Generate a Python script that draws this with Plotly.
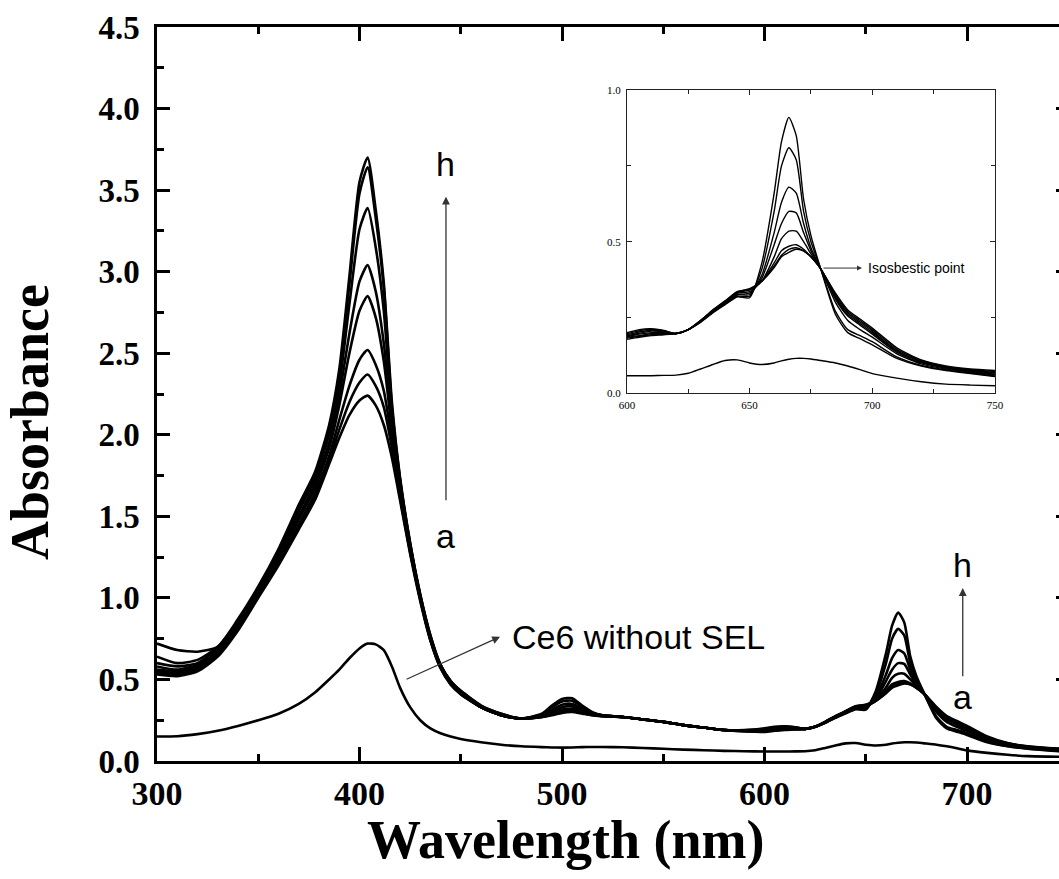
import plotly.graph_objects as go

# ---------------- data ----------------
WL = [300, 310, 320, 330, 340, 350, 360, 370, 378, 385, 390, 395, 400, 404, 408, 412, 416, 420,
      425, 430, 435, 440, 445, 450, 460, 470, 480,
      490, 495, 500, 505, 510, 515, 520,
      530, 540, 550, 560, 570, 580, 590, 600,
      605, 610, 615, 620, 625, 630, 635, 640, 645,
      650, 655, 660, 663, 666, 669, 672, 675, 679,
      685, 690, 695, 700, 710, 720, 730, 740, 750]

curve_a = [0.53, 0.52, 0.55, 0.64, 0.80, 1.00, 1.20, 1.42, 1.60, 1.82, 1.98, 2.12, 2.21, 2.24, 2.18, 2.06, 1.86, 1.60,
           1.27, 0.98, 0.74, 0.57, 0.47, 0.41, 0.33, 0.28, 0.26,
           0.27, 0.28, 0.295, 0.30, 0.29, 0.28, 0.275,
           0.27, 0.255, 0.24, 0.22, 0.205, 0.19, 0.182, 0.178,
           0.185, 0.19, 0.193, 0.197, 0.21, 0.24, 0.275, 0.305, 0.335,
           0.345, 0.37, 0.415, 0.45, 0.465, 0.475, 0.47, 0.45, 0.41,
           0.33, 0.275, 0.245, 0.215, 0.15, 0.11, 0.09, 0.08, 0.075]
curve_b = [0.54, 0.53, 0.56, 0.65, 0.81, 1.01, 1.21, 1.43, 1.62, 1.84, 2.03, 2.20, 2.32, 2.37, 2.30, 2.17, 1.92, 1.62,
           1.28, 0.99, 0.74, 0.57, 0.47, 0.41, 0.33, 0.28, 0.26,
           0.27, 0.285, 0.30, 0.305, 0.295, 0.28, 0.275,
           0.27, 0.255, 0.24, 0.22, 0.205, 0.19, 0.183, 0.182,
           0.188, 0.193, 0.195, 0.197, 0.21, 0.24, 0.274, 0.303, 0.335,
           0.343, 0.37, 0.42, 0.455, 0.475, 0.48, 0.47, 0.45, 0.41,
           0.325, 0.27, 0.24, 0.21, 0.145, 0.108, 0.088, 0.078, 0.072]
curve_c = [0.55, 0.54, 0.57, 0.66, 0.82, 1.02, 1.22, 1.45, 1.64, 1.87, 2.09, 2.30, 2.46, 2.52, 2.43, 2.27, 1.97, 1.65,
           1.29, 1.00, 0.75, 0.58, 0.48, 0.42, 0.33, 0.28, 0.26,
           0.27, 0.29, 0.305, 0.31, 0.30, 0.285, 0.275,
           0.27, 0.255, 0.24, 0.22, 0.205, 0.19, 0.184, 0.185,
           0.19, 0.197, 0.197, 0.197, 0.21, 0.24, 0.273, 0.302, 0.333,
           0.34, 0.37, 0.43, 0.47, 0.485, 0.49, 0.475, 0.45, 0.41,
           0.32, 0.265, 0.235, 0.205, 0.14, 0.105, 0.087, 0.076, 0.069]
curve_d = [0.56, 0.55, 0.58, 0.67, 0.83, 1.03, 1.24, 1.48, 1.67, 1.92, 2.18, 2.50, 2.76, 2.85, 2.72, 2.45, 2.03, 1.68,
           1.31, 1.00, 0.75, 0.58, 0.48, 0.42, 0.33, 0.28, 0.26,
           0.275, 0.295, 0.315, 0.32, 0.305, 0.285, 0.277,
           0.27, 0.255, 0.24, 0.22, 0.205, 0.19, 0.185, 0.188,
           0.195, 0.20, 0.20, 0.197, 0.21, 0.238, 0.272, 0.30, 0.33,
           0.335, 0.37, 0.45, 0.51, 0.535, 0.535, 0.50, 0.46, 0.41,
           0.315, 0.26, 0.23, 0.20, 0.14, 0.103, 0.085, 0.074, 0.066]
curve_e = [0.58, 0.56, 0.59, 0.68, 0.84, 1.04, 1.25, 1.50, 1.70, 1.95, 2.24, 2.62, 2.94, 3.04, 2.88, 2.56, 2.08, 1.70,
           1.32, 1.01, 0.76, 0.58, 0.48, 0.42, 0.33, 0.28, 0.26,
           0.28, 0.305, 0.33, 0.335, 0.31, 0.29, 0.278,
           0.27, 0.255, 0.24, 0.22, 0.205, 0.19, 0.186, 0.19,
           0.198, 0.205, 0.203, 0.197, 0.21, 0.237, 0.27, 0.298, 0.325,
           0.33, 0.38, 0.49, 0.56, 0.60, 0.595, 0.53, 0.47, 0.41,
           0.31, 0.255, 0.225, 0.195, 0.135, 0.10, 0.083, 0.072, 0.063]
curve_f = [0.60, 0.58, 0.60, 0.69, 0.85, 1.05, 1.27, 1.53, 1.73, 2.00, 2.30, 2.80, 3.26, 3.39, 3.15, 2.76, 2.13, 1.72,
           1.33, 1.01, 0.76, 0.59, 0.49, 0.42, 0.33, 0.28, 0.26,
           0.28, 0.315, 0.345, 0.35, 0.32, 0.29, 0.28,
           0.27, 0.255, 0.24, 0.22, 0.205, 0.19, 0.187, 0.193,
           0.202, 0.208, 0.205, 0.197, 0.21, 0.236, 0.268, 0.296, 0.325,
           0.325, 0.39, 0.53, 0.63, 0.68, 0.66, 0.56, 0.48, 0.41,
           0.30, 0.24, 0.21, 0.185, 0.13, 0.097, 0.08, 0.07, 0.06]
curve_g = [0.64, 0.60, 0.62, 0.70, 0.86, 1.06, 1.29, 1.55, 1.75, 2.04, 2.36, 2.92, 3.48, 3.64, 3.33, 2.90, 2.17, 1.73,
           1.33, 1.02, 0.77, 0.59, 0.49, 0.43, 0.34, 0.29, 0.26,
           0.285, 0.33, 0.365, 0.37, 0.33, 0.295, 0.28,
           0.27, 0.255, 0.24, 0.22, 0.205, 0.19, 0.188, 0.197,
           0.206, 0.211, 0.206, 0.197, 0.21, 0.235, 0.267, 0.294, 0.32,
           0.32, 0.41, 0.60, 0.75, 0.81, 0.77, 0.60, 0.50, 0.41,
           0.27, 0.21, 0.19, 0.17, 0.12, 0.092, 0.077, 0.067, 0.057]
curve_h = [0.72, 0.68, 0.67, 0.70, 0.87, 1.07, 1.30, 1.57, 1.77, 2.06, 2.40, 2.97, 3.55, 3.70, 3.38, 2.93, 2.20, 1.74,
           1.34, 1.02, 0.77, 0.59, 0.49, 0.43, 0.34, 0.29, 0.26,
           0.29, 0.34, 0.38, 0.385, 0.34, 0.30, 0.28,
           0.27, 0.255, 0.24, 0.22, 0.205, 0.19, 0.19, 0.20,
           0.21, 0.213, 0.207, 0.197, 0.21, 0.234, 0.265, 0.292, 0.318,
           0.315, 0.43, 0.66, 0.83, 0.91, 0.85, 0.64, 0.52, 0.41,
           0.26, 0.20, 0.18, 0.16, 0.115, 0.09, 0.075, 0.065, 0.055]
ce6_without_sel = [0.15, 0.152, 0.165, 0.185, 0.215, 0.25, 0.29, 0.35, 0.42, 0.50, 0.56, 0.63, 0.69, 0.72, 0.715, 0.68, 0.58, 0.45,
                   0.33, 0.25, 0.20, 0.17, 0.15, 0.135, 0.115, 0.10, 0.09,
                   0.085, 0.083, 0.082, 0.083, 0.085, 0.086, 0.086,
                   0.084, 0.08, 0.075, 0.07, 0.066, 0.062, 0.06, 0.058,
                   0.058, 0.058, 0.059, 0.06, 0.066, 0.08, 0.095, 0.108, 0.11,
                   0.10, 0.095, 0.10, 0.107, 0.112, 0.115, 0.115, 0.113, 0.108,
                   0.10, 0.09, 0.078, 0.065, 0.05, 0.038, 0.03, 0.027, 0.025]

SERIES = {"a": curve_a, "b": curve_b, "c": curve_c, "d": curve_d, "e": curve_e,
          "f": curve_f, "g": curve_g, "h": curve_h, "Ce6 without SEL": ce6_without_sel}

X_TICKS = [300, 400, 500, 600, 700]
Y_TICKS = [0.0, 0.5, 1.0, 1.5, 2.0, 2.5, 3.0, 3.5, 4.0, 4.5]
INSET_X_TICKS = [600, 650, 700, 750]
INSET_Y_TICKS = [0.0, 0.5, 1.0]

# ---------------- figure ----------------
SERIF = "Times New Roman, Liberation Serif, serif"
SANS = "Arial, Liberation Sans, sans-serif"

fig = go.Figure()
for name, vals in SERIES.items():
    fig.add_trace(go.Scatter(x=WL, y=vals, mode="lines", name=name,
                             line=dict(color="black", width=2.6, shape="spline", smoothing=0.6),
                             showlegend=False, hoverinfo="skip"))
for name, vals in SERIES.items():
    fig.add_trace(go.Scatter(x=WL, y=vals, mode="lines", name=name + " (inset)",
                             xaxis="x2", yaxis="y2",
                             line=dict(color="black", width=1.4, shape="spline", smoothing=0.6),
                             showlegend=False, hoverinfo="skip"))
fig.add_trace(go.Scatter(x=[], y=[], yaxis="y3", showlegend=False, hoverinfo="skip"))

W, H = 1059, 879
L, R, T, B = 157, 0, 27, 118
x_right = 300 + (W - L - R) / 2.025

fig.update_layout(
    width=W, height=H,
    margin=dict(l=L, r=R, t=T, b=B, autoexpand=False),
    paper_bgcolor="white", plot_bgcolor="white",
    xaxis=dict(range=[300, x_right], tickvals=X_TICKS, showgrid=False, zeroline=False, automargin=False,
               showline=True, linecolor="black", linewidth=2.5, mirror="ticks",
               ticks="inside", ticklen=14, tickwidth=2.5, tickcolor="black",
               minor=dict(ticks="inside", dtick=50, tick0=300, ticklen=7, tickwidth=2.5, tickcolor="black"),
               tickfont=dict(family=SERIF, size=34, color="black", weight="bold"),
               ticklabelstandoff=0),
    yaxis=dict(range=[0, 4.5], tickvals=Y_TICKS, tickformat=".1f", showgrid=False, zeroline=False,
               automargin=False,
               showline=True, linecolor="black", linewidth=2.5, mirror=False,
               ticks="inside", ticklen=13, tickwidth=2.5, tickcolor="black",
               minor=dict(ticks="inside", dtick=0.25, tick0=0, ticklen=7, tickwidth=2.5, tickcolor="black"),
               tickfont=dict(family=SERIF, size=33, color="black", weight="bold"),
               ticklabelstandoff=8),
    yaxis3=dict(range=[0, 4.5], overlaying="y", side="right", anchor="x", tickvals=Y_TICKS,
                automargin=False,
                showticklabels=False, showgrid=False, zeroline=False, showline=False,
                ticks="inside", ticklen=3, tickwidth=2.5, tickcolor="black"),
    xaxis2=dict(domain=[0.521, 0.929], anchor="y2", range=[600, 750], tickvals=INSET_X_TICKS,
                automargin=False,
                showgrid=False, zeroline=False, showline=True, linecolor="#222", linewidth=1,
                mirror="ticks", ticks="inside", ticklen=5, tickwidth=1, tickcolor="#222",
                minor=dict(ticks="inside", dtick=25, tick0=600, ticklen=4, tickwidth=1, tickcolor="#222"),
                tickfont=dict(family=SERIF, size=11, color="black"), ticklabelstandoff=2),
    yaxis2=dict(domain=[0.501, 0.914], anchor="x2", range=[0, 1.0], tickvals=INSET_Y_TICKS, tickformat=".1f",
                automargin=False,
                showgrid=False, zeroline=False, showline=True, linecolor="#222", linewidth=1,
                mirror="ticks", ticks="inside", ticklen=5, tickwidth=1, tickcolor="#222",
                minor=dict(ticks="inside", dtick=0.25, tick0=0, ticklen=4, tickwidth=1, tickcolor="#222"),
                tickfont=dict(family=SERIF, size=11, color="black"), ticklabelstandoff=3),
)

# axis titles
fig.add_annotation(text="Wavelength (nm)", xref="paper", yref="paper", x=0.4534, y=-0.108,
                   showarrow=False, xanchor="center", yanchor="middle",
                   font=dict(family=SERIF, size=54, color="black", weight="bold"))
fig.add_annotation(text="Absorbance", xref="paper", yref="paper", x=-0.1408, y=0.4619,
                   showarrow=False, textangle=-90, xanchor="center", yanchor="middle",
                   font=dict(family=SERIF, size=54, color="black", weight="bold"))

# arrows and labels in the main plot
def arrow(x, y, ax, ay, xr="x", yr="y", width=1.3, size=1.2):
    fig.add_annotation(x=x, y=y, ax=ax, ay=ay, xref=xr, yref=yr, axref=xr, ayref=yr,
                       text="", showarrow=True, arrowhead=2, arrowsize=size,
                       arrowwidth=width, arrowcolor="#333", standoff=0, startstandoff=0)

def label(txt, x, y, size=34, xr="x", yr="y", xanchor="center"):
    fig.add_annotation(x=x, y=y, xref=xr, yref=yr, text=txt, showarrow=False,
                       xanchor=xanchor, yanchor="middle",
                       font=dict(family=SANS, size=size, color="black"))

arrow(442.7, 3.46, 442.7, 1.59)
label("h", 442.7, 3.66)
label("a", 442.7, 1.38)

arrow(697.9, 1.06, 697.9, 0.51)
label("h", 697.9, 1.20)
label("a", 697.9, 0.39)

arrow(469.4, 0.761, 422.5, 0.497)
label("Ce6 without SEL", 474.3, 0.761, xanchor="left")

# inset annotation
arrow(695.8, 0.413, 679.5, 0.413, xr="x2", yr="y2", width=1, size=1)
label("Isosbestic point", 697.4, 0.413, size=14, xr="x2", yr="y2", xanchor="left")

fig.write_html("out.html", config={"displayModeBar": False},
               post_script="document.body.style.margin='0';document.body.style.overflow='hidden';")
